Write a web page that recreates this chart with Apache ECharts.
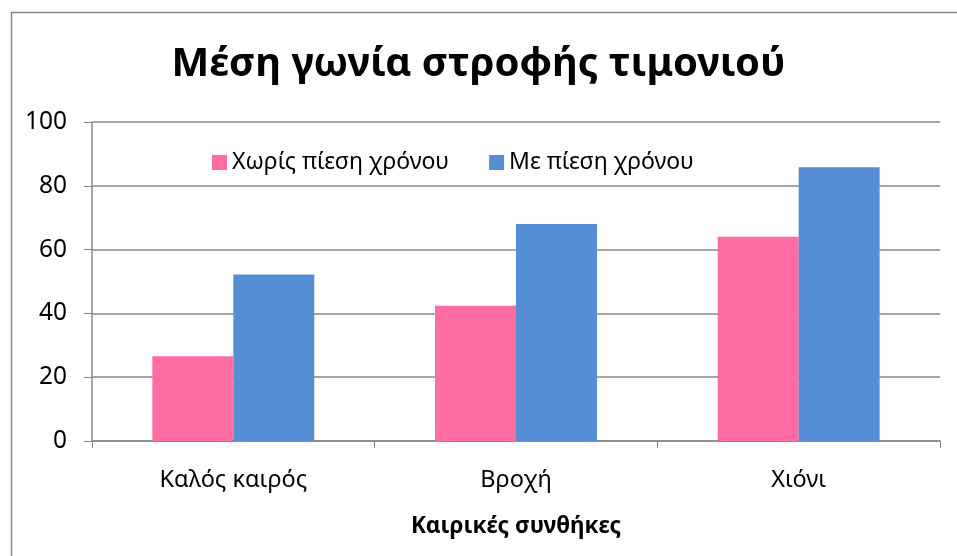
<!DOCTYPE html>
<html><head><meta charset="utf-8">
<script src="https://cdn.jsdelivr.net/npm/echarts@6/dist/echarts.min.js"></script>
<style>html,body{margin:0;padding:0;background:#fff}#c{width:957px;height:556px}</style>
</head><body><div id="c"></div>
<script>
const categories = ['Καλός καιρός', 'Βροχή', 'Χιόνι'];
const seriesNames = ['Χωρίς πίεση χρόνου', 'Με πίεση χρόνου'];
const noPressure = [26.6, 42.4, 64.0];
const withPressure = [52.2, 68.0, 85.8];
const titleText = 'Μέση γωνία στροφής τιμονιού';
const xAxisName = 'Καιρικές συνθήκες';

const chart = echarts.init(document.getElementById('c'));
const font = 'Noto Sans';
chart.setOption({
  animation: false,
  backgroundColor: '#fff',
  graphic: [{type: 'rect', left: 9, top: 10, shape: {width: 1200, height: 1200}, style: {fill: 'none', stroke: '#888', lineWidth: 1.5}, silent: true}],
  title: {text: titleText, left: 'center', top: 40, textStyle: {fontFamily: font, fontWeight: 'bold', fontSize: 40, color: '#000'}},
  legend: {top: 146, left: 207, itemWidth: 15, itemHeight: 15, itemGap: 40, icon: 'rect',
    textStyle: {fontFamily: font, fontSize: 23, color: '#000'}},
  grid: {left: 92, right: 17, top: 122, bottom: 115},
  xAxis: {type: 'category', data: categories,
    name: xAxisName, nameLocation: 'middle', nameGap: 74,
    nameTextStyle: {fontFamily: font, fontWeight: 'bold', fontSize: 22.5, color: '#000'},
    axisLine: {lineStyle: {color: '#888', width: 1.5}},
    axisTick: {show: true, length: 7, lineStyle: {color: '#888'}},
    axisLabel: {fontFamily: font, fontSize: 23.5, color: '#000', margin: 27}},
  yAxis: {type: 'value', min: 0, max: 100, interval: 20,
    axisLine: {show: true, lineStyle: {color: '#888', width: 1.5}},
    axisTick: {show: true, length: 8, lineStyle: {color: '#888'}},
    splitLine: {lineStyle: {color: '#888', width: 1.5}},
    axisLabel: {fontFamily: font, fontSize: 24.5, color: '#000', margin: 25}},
  series: [
    {name: seriesNames[0], type: 'bar', data: noPressure, barGap: '0%', barCategoryGap: '42.7%', itemStyle: {color: '#FD6CA3'}},
    {name: seriesNames[1], type: 'bar', data: withPressure, barGap: '0%', barCategoryGap: '42.7%', itemStyle: {color: '#558ED5'}}
  ]
});
</script></body></html>
